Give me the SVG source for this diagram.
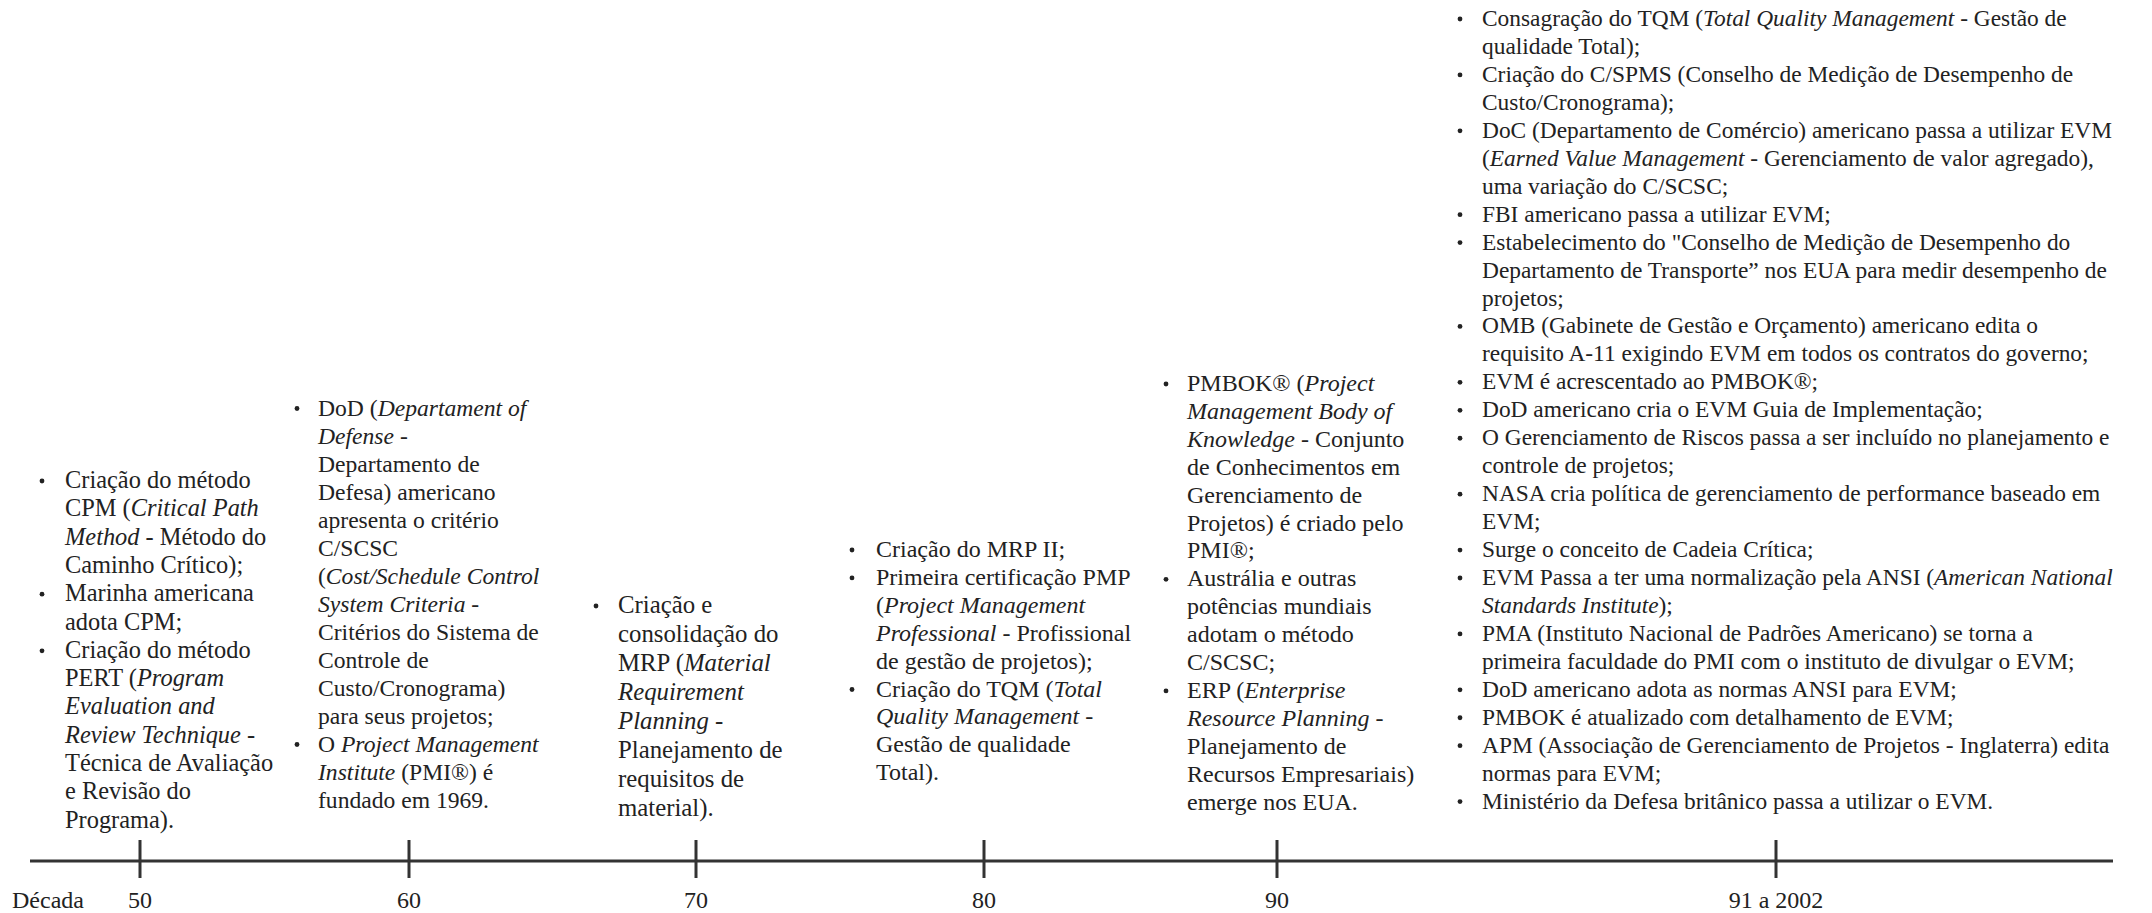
<svg xmlns="http://www.w3.org/2000/svg" width="2152" height="913" viewBox="0 0 2152 913">
<style>
text{font-family:"Liberation Serif","Times New Roman",serif;font-size:24px;fill:#222}
.i{font-style:italic}
.b{fill:#222}
.ax{stroke:#333;stroke-width:3;fill:none}
#d50 text{font-size:24.4px}
#d60 text{font-size:23.6px}
#d70 text{font-size:24.8px}
#d91 text{font-size:23.4px}
</style>
<rect width="2152" height="913" fill="#ffffff"/>
<g id="axis">
<line class="ax" x1="30" y1="861" x2="2113" y2="861"/>
<line class="ax" x1="140" y1="840" x2="140" y2="878"/>
<line class="ax" x1="409" y1="840" x2="409" y2="878"/>
<line class="ax" x1="696" y1="840" x2="696" y2="878"/>
<line class="ax" x1="984" y1="840" x2="984" y2="878"/>
<line class="ax" x1="1277" y1="840" x2="1277" y2="878"/>
<line class="ax" x1="1776" y1="840" x2="1776" y2="878"/>
</g>
<g id="labels">
<text x="12" y="908">Década</text>
<text x="140" y="908" text-anchor="middle">50</text>
<text x="409" y="908" text-anchor="middle">60</text>
<text x="696" y="908" text-anchor="middle">70</text>
<text x="984" y="908" text-anchor="middle">80</text>
<text x="1277" y="908" text-anchor="middle">90</text>
<text x="1776" y="908" text-anchor="middle">91 a 2002</text>
</g>
<g id="d50">
<circle class="b" cx="42" cy="481" r="2.4"/>
<circle class="b" cx="42" cy="594.2" r="2.4"/>
<circle class="b" cx="42" cy="650.8" r="2.4"/>
<text x="65" y="488">Criação do método</text>
<text x="65" y="516.3">CPM (<tspan class="i">Critical Path</tspan></text>
<text x="65" y="544.6"><tspan class="i">Method</tspan> - Método do</text>
<text x="65" y="572.9">Caminho Crítico);</text>
<text x="65" y="601.2">Marinha americana</text>
<text x="65" y="629.5">adota CPM;</text>
<text x="65" y="657.8">Criação do método</text>
<text x="65" y="686.1">PERT (<tspan class="i">Program</tspan></text>
<text x="65" y="714.4"><tspan class="i">Evaluation and</tspan></text>
<text x="65" y="742.7"><tspan class="i">Review Technique</tspan> -</text>
<text x="65" y="771">Técnica de Avaliação</text>
<text x="65" y="799.3">e Revisão do</text>
<text x="65" y="827.6">Programa).</text>
</g>
<g id="d60">
<circle class="b" cx="297" cy="408.5" r="2.4"/>
<circle class="b" cx="297" cy="744.5" r="2.4"/>
<text x="318" y="415.5">DoD (<tspan class="i">Departament of</tspan></text>
<text x="318" y="443.5"><tspan class="i">Defense</tspan> -</text>
<text x="318" y="471.5">Departamento de</text>
<text x="318" y="499.5">Defesa) americano</text>
<text x="318" y="527.5">apresenta o critério</text>
<text x="318" y="555.5">C/SCSC</text>
<text x="318" y="583.5">(<tspan class="i">Cost/Schedule Control</tspan></text>
<text x="318" y="611.5"><tspan class="i">System Criteria</tspan> -</text>
<text x="318" y="639.5">Critérios do Sistema de</text>
<text x="318" y="667.5">Controle de</text>
<text x="318" y="695.5">Custo/Cronograma)</text>
<text x="318" y="723.5">para seus projetos;</text>
<text x="318" y="751.5">O <tspan class="i">Project Management</tspan></text>
<text x="318" y="779.5"><tspan class="i">Institute</tspan> (PMI®) é</text>
<text x="318" y="807.5">fundado em 1969.</text>
</g>
<g id="d70">
<circle class="b" cx="596" cy="606" r="2.4"/>
<text x="618" y="613">Criação e</text>
<text x="618" y="642">consolidação do</text>
<text x="618" y="671">MRP (<tspan class="i">Material</tspan></text>
<text x="618" y="700"><tspan class="i">Requirement</tspan></text>
<text x="618" y="729"><tspan class="i">Planning</tspan> -</text>
<text x="618" y="758">Planejamento de</text>
<text x="618" y="787">requisitos de</text>
<text x="618" y="816">material).</text>
</g>
<g id="d80">
<circle class="b" cx="852" cy="550" r="2.4"/>
<circle class="b" cx="852" cy="577.9" r="2.4"/>
<circle class="b" cx="852" cy="689.5" r="2.4"/>
<text x="876" y="557">Criação do MRP II;</text>
<text x="876" y="584.9">Primeira certificação PMP</text>
<text x="876" y="612.8">(<tspan class="i">Project Management</tspan></text>
<text x="876" y="640.7"><tspan class="i">Professional</tspan> - Profissional</text>
<text x="876" y="668.6">de gestão de projetos);</text>
<text x="876" y="696.5">Criação do TQM (<tspan class="i">Total</tspan></text>
<text x="876" y="724.4"><tspan class="i">Quality Management</tspan> -</text>
<text x="876" y="752.3">Gestão de qualidade</text>
<text x="876" y="780.2">Total).</text>
</g>
<g id="d90">
<circle class="b" cx="1166" cy="384" r="2.4"/>
<circle class="b" cx="1166" cy="579.3" r="2.4"/>
<circle class="b" cx="1166" cy="690.9" r="2.4"/>
<text x="1187" y="391">PMBOK® (<tspan class="i">Project</tspan></text>
<text x="1187" y="418.9"><tspan class="i">Management Body of</tspan></text>
<text x="1187" y="446.8"><tspan class="i">Knowledge</tspan> - Conjunto</text>
<text x="1187" y="474.7">de Conhecimentos em</text>
<text x="1187" y="502.6">Gerenciamento de</text>
<text x="1187" y="530.5">Projetos) é criado pelo</text>
<text x="1187" y="558.4">PMI®;</text>
<text x="1187" y="586.3">Austrália e outras</text>
<text x="1187" y="614.2">potências mundiais</text>
<text x="1187" y="642.1">adotam o método</text>
<text x="1187" y="670">C/SCSC;</text>
<text x="1187" y="697.9">ERP (<tspan class="i">Enterprise</tspan></text>
<text x="1187" y="725.8"><tspan class="i">Resource Planning</tspan> -</text>
<text x="1187" y="753.7">Planejamento de</text>
<text x="1187" y="781.6">Recursos Empresariais)</text>
<text x="1187" y="809.5">emerge nos EUA.</text>
</g>
<g id="d91">
<circle class="b" cx="1460" cy="19" r="2.4"/>
<circle class="b" cx="1460" cy="74.9" r="2.4"/>
<circle class="b" cx="1460" cy="130.8" r="2.4"/>
<circle class="b" cx="1460" cy="214.65" r="2.4"/>
<circle class="b" cx="1460" cy="242.6" r="2.4"/>
<circle class="b" cx="1460" cy="326.45" r="2.4"/>
<circle class="b" cx="1460" cy="382.35" r="2.4"/>
<circle class="b" cx="1460" cy="410.3" r="2.4"/>
<circle class="b" cx="1460" cy="438.25" r="2.4"/>
<circle class="b" cx="1460" cy="494.15" r="2.4"/>
<circle class="b" cx="1460" cy="550.05" r="2.4"/>
<circle class="b" cx="1460" cy="578" r="2.4"/>
<circle class="b" cx="1460" cy="633.9" r="2.4"/>
<circle class="b" cx="1460" cy="689.8" r="2.4"/>
<circle class="b" cx="1460" cy="717.75" r="2.4"/>
<circle class="b" cx="1460" cy="745.7" r="2.4"/>
<circle class="b" cx="1460" cy="801.6" r="2.4"/>
<text x="1482" y="26">Consagração do TQM (<tspan class="i">Total Quality Management</tspan> - Gestão de</text>
<text x="1482" y="53.95">qualidade Total);</text>
<text x="1482" y="81.9">Criação do C/SPMS (Conselho de Medição de Desempenho de</text>
<text x="1482" y="109.85">Custo/Cronograma);</text>
<text x="1482" y="137.8">DoC (Departamento de Comércio) americano passa a utilizar EVM</text>
<text x="1482" y="165.75">(<tspan class="i">Earned Value Management</tspan> - Gerenciamento de valor agregado),</text>
<text x="1482" y="193.7">uma variação do C/SCSC;</text>
<text x="1482" y="221.65">FBI americano passa a utilizar EVM;</text>
<text x="1482" y="249.6">Estabelecimento do "Conselho de Medição de Desempenho do</text>
<text x="1482" y="277.55">Departamento de Transporte” nos EUA para medir desempenho de</text>
<text x="1482" y="305.5">projetos;</text>
<text x="1482" y="333.45">OMB (Gabinete de Gestão e Orçamento) americano edita o</text>
<text x="1482" y="361.4">requisito A-11 exigindo EVM em todos os contratos do governo;</text>
<text x="1482" y="389.35">EVM é acrescentado ao PMBOK®;</text>
<text x="1482" y="417.3">DoD americano cria o EVM Guia de Implementação;</text>
<text x="1482" y="445.25">O Gerenciamento de Riscos passa a ser incluído no planejamento e</text>
<text x="1482" y="473.2">controle de projetos;</text>
<text x="1482" y="501.15">NASA cria política de gerenciamento de performance baseado em</text>
<text x="1482" y="529.1">EVM;</text>
<text x="1482" y="557.05">Surge o conceito de Cadeia Crítica;</text>
<text x="1482" y="585">EVM Passa a ter uma normalização pela ANSI (<tspan class="i">American National</tspan></text>
<text x="1482" y="612.95"><tspan class="i">Standards Institute</tspan>);</text>
<text x="1482" y="640.9">PMA (Instituto Nacional de Padrões Americano) se torna a</text>
<text x="1482" y="668.85">primeira faculdade do PMI com o instituto de divulgar o EVM;</text>
<text x="1482" y="696.8">DoD americano adota as normas ANSI para EVM;</text>
<text x="1482" y="724.75">PMBOK é atualizado com detalhamento de EVM;</text>
<text x="1482" y="752.7">APM (Associação de Gerenciamento de Projetos - Inglaterra) edita</text>
<text x="1482" y="780.65">normas para EVM;</text>
<text x="1482" y="808.6">Ministério da Defesa britânico passa a utilizar o EVM.</text>
</g>
</svg>
